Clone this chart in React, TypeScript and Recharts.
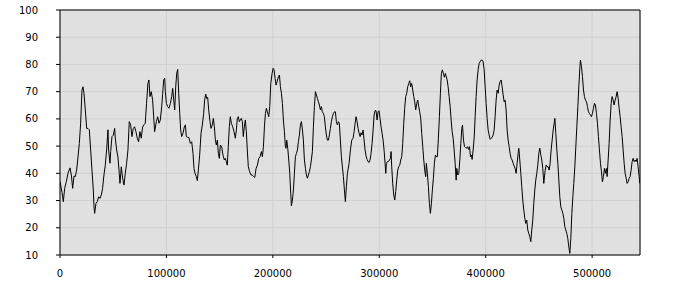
import { CartesianGrid, Line, LineChart, ReferenceLine, XAxis, YAxis } from "recharts";

// readings, one pair of arrays per ~90k stretch
const xA = [0, 1880, 3130, 4380, 5950, 7520, 9400, 10650, 11900, 13150, 14400, 15650, 16900, 18150, 19400, 20650, 21600, 22550, 23800, 25050, 26300, 27550, 28800, 30050, 31300, 31950, 32550, 33800, 35050, 36300, 37550, 38800, 40050, 41300, 42550, 43800, 45050, 45700, 46950, 47600, 48850, 50100, 51350, 51950, 53200, 54450, 55700, 56350, 57600, 58850, 60100, 61350, 62600, 63850, 65100, 66350, 67600, 68850, 70100, 71350, 72600, 73850, 75100, 76350, 77600, 78850, 80100, 81350, 82600, 83550, 84500, 85750, 87000, 88250, 88900];
const vA = [37, 33, 29.6, 34.5, 37, 40, 42, 39.4, 34.5, 39, 38.8, 41.2, 46, 51, 58.4, 70.6, 71.8, 69.4, 63.3, 56.5, 56.5, 56, 48.6, 41.2, 33.9, 27.7, 25.3, 29, 29.6, 31.4, 30.8, 32, 34.5, 39.4, 43, 48.6, 56, 48.6, 43.7, 48, 53.5, 54, 56.5, 53, 48.6, 46, 40, 36.3, 42.4, 38.2, 35.7, 40, 43.7, 48.6, 59, 57.8, 53.5, 56.5, 57.1, 55.3, 52.9, 51.6, 55.3, 52.9, 57, 57.8, 58.4, 65.7, 73, 74.3, 68.2, 70, 67, 59.6, 55.3];

const xB = [90550, 91800, 93050, 94300, 95550, 96500, 97450, 98400, 99000, 99950, 101200, 102450, 103700, 104950, 105900, 106850, 107800, 108750, 109650, 110600, 111550, 112500, 113400, 114350, 115600, 116850, 117800, 118700, 119950, 121200, 122500, 123750, 125000, 125900, 126850, 128100, 129050, 130000, 131250, 132500, 133750, 135000, 135950, 136900, 137850, 138750, 139700, 140950, 141900, 143150, 144100, 145050, 146000, 146900, 147850, 148800, 149750, 150650, 151900, 153150, 154400, 155350, 156300, 157200, 158150, 159100, 160050, 161000, 162250, 163500, 164750, 165700, 166650, 167550, 168500, 169450, 170400, 171350, 172250, 173200, 174150, 175100, 176000, 176950, 178200, 179450];
const vB = [59, 60.8, 58.4, 59.6, 64.5, 69.4, 74.3, 74.9, 70, 65.7, 64.5, 63.9, 65.7, 68.2, 71.2, 67, 63.3, 71.8, 76.7, 78.2, 69.4, 62, 55.9, 53.5, 54.7, 57.1, 57.8, 53.5, 53.2, 53.1, 51, 51.6, 47.3, 41.8, 40, 38.8, 37.3, 41.2, 46.7, 54.7, 57.8, 62, 67, 69.1, 67.5, 67.9, 63.3, 59, 56.5, 57.8, 60.2, 57.1, 52.2, 50.4, 52.2, 47.3, 45.5, 50.4, 49.8, 46.7, 44.9, 45.5, 44.3, 43, 49.8, 57.1, 60.8, 58.4, 57.1, 55.3, 52.9, 55.9, 60.2, 60.8, 59, 59.6, 60.2, 59, 53.5, 57.1, 59.6, 55.3, 48.6, 42.4, 40.6, 39.4];

const xC = [180500, 182050, 183000, 184250, 185500, 186750, 188000, 189250, 190200, 191150, 192100, 193000, 193950, 194900, 196150, 197100, 198050, 199300, 200250, 201150, 202100, 203050, 204000, 205250, 206200, 207100, 208050, 209000, 209900, 210850, 211800, 212400, 213050, 214000, 214950, 215900, 216800, 217450, 218400, 219350, 220250, 221200, 222150, 223100, 224000, 224950, 225900, 226850, 227800, 228700, 229650, 230600, 231550, 232450, 233400, 234350, 235300, 236200, 237150, 238100, 239050, 240000, 240950, 241850, 242800, 243750, 244700, 245600, 246550, 247500, 248450, 249350, 250300, 251250, 252200, 253150, 254050, 255000, 255950, 256900, 257850, 258750, 259700, 260650, 261600, 262500, 263450, 264400, 265350, 266300, 267250, 268150, 269100, 270050];
const vC = [39.4, 38.8, 38.5, 41.8, 43, 45.5, 46.1, 48, 46.1, 49.8, 57.1, 62, 63.9, 62.6, 60.8, 64.5, 73, 76.7, 78.6, 78, 74.9, 72.4, 73.7, 75.5, 76.1, 71.8, 69.4, 65.7, 59.6, 55.3, 49.8, 49.2, 52.2, 49.2, 44.9, 40, 32.6, 28.1, 30.2, 33.9, 40, 46.1, 47.3, 48.6, 51.6, 54.1, 57.8, 59, 55.9, 52.2, 44.9, 41.8, 39.4, 38.2, 39.4, 40.6, 42.4, 44.9, 48, 57.1, 64.5, 70, 68.8, 67.5, 66.3, 65.1, 63.3, 64.5, 62.6, 62, 60.8, 57.1, 54.1, 52.2, 52.2, 54.1, 56.5, 59, 60.8, 62, 62.6, 62.6, 59, 57.8, 59, 58.4, 52.2, 46.1, 42.4, 38.8, 33.9, 29.6, 35.1, 40];

const xD = [271650, 272900, 274150, 275400, 276350, 277300, 278200, 279150, 280100, 281050, 282000, 282900, 283850, 284800, 285750, 286650, 287600, 288550, 289500, 290450, 291350, 292300, 293250, 294200, 295150, 296050, 297000, 297950, 298900, 299800, 300750, 301700, 302650, 303600, 304500, 305450, 306100, 306700, 307650, 308600, 309550, 310450, 311100, 311700, 312650, 313600, 314550, 315450, 316400, 317350, 318300, 319250, 320150, 321100, 322050, 323000, 323900, 324850, 325800, 326750, 327700, 328650, 329550, 330500, 331450, 332400, 333300, 334250, 335200, 336150, 337100, 338000, 338950, 339900, 340850, 341800, 342700, 343650, 344250, 345200, 346150, 347100, 348050, 349000, 349900, 350850, 351800, 352750, 353700, 354600, 355550, 356500, 357450, 358350, 359300, 360250, 361200, 362100];
const vD = [43.7, 48.6, 52.2, 52.9, 55.3, 58.4, 60.8, 59, 56.5, 54.7, 53.5, 54.9, 54.1, 55.9, 52.2, 48.6, 46.4, 45.1, 44.3, 44, 44.9, 47.3, 51, 55.9, 61.4, 63, 63, 59.6, 62.6, 63, 60.2, 57.1, 54.7, 52.2, 48.6, 43.7, 40, 43.7, 44.3, 44.3, 44.9, 45.5, 48, 42.4, 36.3, 32, 30.2, 33.3, 37.5, 41.2, 42.4, 43, 44.9, 46.1, 51, 58.4, 63.9, 68.2, 69.4, 71.8, 73, 74, 71.8, 73, 70.6, 68.2, 66.3, 63.3, 65.7, 66.9, 64.5, 62.6, 60.2, 54.7, 49.8, 44.9, 41.2, 38.8, 43.7, 40, 35.1, 29, 25.3, 29, 33.9, 38.2, 43.7, 46.7, 46.1, 46.1, 52.9, 60.8, 69.4, 76.7, 78, 76.7, 75.3, 76.7];

const xE = [363800, 364700, 365650, 366600, 367550, 368500, 369400, 370350, 371300, 372250, 372850, 373800, 374750, 375700, 376650, 377550, 378200, 379150, 380100, 381000, 381950, 382900, 383850, 384800, 385700, 386650, 387250, 388200, 389150, 390100, 391000, 391950, 392900, 393850, 394800, 395700, 396650, 397600, 398550, 399500, 400400, 401350, 402300, 403250, 404200, 405100, 406050, 407000, 407950, 408850, 409800, 410750, 411700, 412650, 413550, 414500, 415450, 416400, 417350, 418250, 419200, 420150, 421100, 422050, 422950, 423900, 424850, 425800, 426700, 427650, 428600, 429550, 430500, 431100, 432050, 433000, 433900, 434850, 435800, 436750, 437700, 438600, 439550, 440500, 441450, 442400, 443300, 444250, 445200, 446150, 447050, 448000, 448950, 449900, 450850, 451800, 452700, 453650, 454600];
const vE = [74.3, 71.8, 68.2, 64.5, 59.6, 55.3, 52.9, 48.6, 43.7, 37.5, 41.8, 39.4, 40, 44.9, 51, 56.5, 57.7, 52.2, 49.8, 49.5, 49.2, 49.8, 48.8, 49.8, 46.1, 46.7, 45.1, 48.6, 52.9, 60.8, 68.2, 74.3, 78, 80.4, 81, 81.6, 81.6, 81, 78, 71.8, 65.7, 60.2, 55.9, 54.1, 52.5, 52.9, 53.2, 54.1, 55.9, 60.8, 66.9, 70.6, 69.4, 72.4, 73.7, 74.3, 71.8, 68.8, 66.3, 66.9, 63.3, 55.9, 52.2, 49.8, 47.3, 45.5, 44.9, 43.7, 42.7, 41.8, 40, 43.7, 47.3, 49.2, 44.9, 40, 35.1, 30.2, 26.5, 23.5, 21.6, 22.8, 19.2, 17.9, 16.7, 14.9, 19.2, 22.8, 29, 33.9, 37.5, 40, 43, 47.3, 49.2, 46.7, 44.9, 41.8, 36.3];

const xF = [455900, 456800, 457750, 458700, 459650, 460550, 461500, 462450, 463400, 464350, 465000, 465900, 466850, 467800, 468750, 469650, 470600, 471550, 472500, 473400, 474350, 475300, 476250, 477150, 478100, 479050, 480000, 480950, 481900, 482800, 483750, 484700, 485650, 486600, 487500, 488450, 489050, 490000, 490950, 491900, 492800, 493750, 494700, 495650, 496550, 497500, 498450, 499400, 500300, 501250, 502200, 503150, 504100, 505000, 505950, 506900, 507850, 508800, 509700, 510650, 511600, 512550, 513450, 514100, 515050, 516000, 516950, 517900, 518800, 519750, 520700, 521650, 522600, 523500, 524450, 525400, 526350, 527250, 528200, 529150, 530100, 531050, 532000, 532900, 533850, 534800, 535750, 536650, 537600, 538550, 539500, 540450, 541350, 542300, 543250, 544200, 544850];
const vF = [41.2, 43, 42.4, 42.4, 41.2, 43.7, 48.6, 52.2, 55.9, 58.4, 60.2, 54.7, 48.6, 43.7, 37.5, 31.4, 27.7, 26.5, 25.3, 23.5, 20.4, 19.2, 17.9, 16.1, 13, 10.6, 16.1, 25.3, 31.4, 36.3, 42.4, 49.8, 57.1, 64.5, 71.8, 78.6, 81.6, 79.2, 75.5, 70.6, 68.2, 66.9, 66.3, 64.5, 62.6, 62, 61.4, 60.8, 62, 63.9, 65.7, 65.1, 62, 58.4, 53.5, 48.6, 43.7, 40.6, 36.9, 38.8, 41.8, 40, 41.8, 38.8, 44.9, 51, 59.6, 65.7, 68.2, 66.9, 65.1, 66.9, 68.2, 70, 67.5, 63.9, 60.8, 57.1, 53.5, 48.6, 43.7, 40, 38.2, 36.3, 36.9, 38.2, 38.8, 41.2, 44.3, 45.5, 44.3, 44.9, 44.3, 45.5, 42.4, 38.8, 36.3];

const xTicks = [0, 100000, 200000, 300000, 400000, 500000];
const yTicks = [10, 20, 30, 40, 50, 60, 70, 80, 90, 100];

const xs = [...xA, ...xB, ...xC, ...xD, ...xE, ...xF];
const vs = [...vA, ...vB, ...vC, ...vD, ...vE, ...vF];
const data = xs.map((x, i) => ({ x, v: vs[i] }));

const tickStyle = { fill: "#000", fontSize: 10, fontFamily: "DejaVu Sans" };

export default function App() {
  return (
    <div style={{ position: "absolute", left: 0, top: 0, background: "#fff" }}>
      <LineChart width={700} height={300} data={data} margin={{ top: 10, right: 0, bottom: 0, left: 0 }}>
        <CartesianGrid yAxisId="left" fill="#e0e0e0" fillOpacity={1} stroke="#d0d0d0" />
        <XAxis
          dataKey="x"
          type="number"
          domain={[0, 545000]}
          ticks={xTicks}
          allowDataOverflow
          height={45}
          tickSize={3}
          tickMargin={12}
          tick={tickStyle}
          axisLine={{ stroke: "#000" }}
          tickLine={{ stroke: "#000" }}
        />
        <YAxis
          yAxisId="left"
          orientation="left"
          width={60}
          domain={[10, 100]}
          ticks={yTicks}
          interval={0}
          tickSize={4}
          tickMargin={18}
          tick={tickStyle}
          axisLine={{ stroke: "#000" }}
          tickLine={{ stroke: "#000" }}
        />
        <YAxis
          yAxisId="right"
          orientation="right"
          width={60}
          domain={[10, 100]}
          ticks={yTicks}
          interval={0}
          tickSize={4}
          tickMargin={18}
          tick={tickStyle}
          axisLine={{ stroke: "#000" }}
          tickLine={{ stroke: "#000" }}
        />
        <ReferenceLine yAxisId="left" y={100} stroke="#000" />
        <Line
          yAxisId="left"
          type="linear"
          dataKey="v"
          stroke="#000"
          strokeWidth={1}
          dot={false}
          isAnimationActive={false}
        />
      </LineChart>
    </div>
  );
}
